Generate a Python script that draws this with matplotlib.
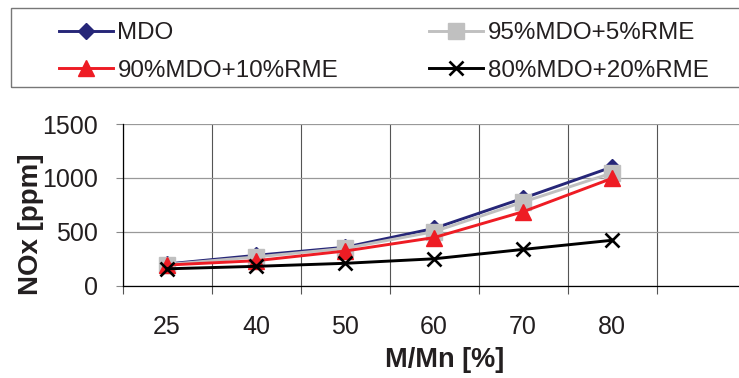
import matplotlib
matplotlib.use("Agg")
import matplotlib.pyplot as plt
from matplotlib.patches import Rectangle

plt.rcParams['font.family'] = ['Liberation Sans', 'DejaVu Sans']

# Data
loads = ["25", "40", "50", "60", "70", "80"]
mdo = [200, 280, 355, 530, 810, 1100]
mdo95 = [195, 265, 345, 500, 775, 1045]
mdo90 = [190, 230, 320, 445, 685, 995]
mdo80 = [155, 178, 206, 248, 335, 420]

W, H = 739, 378
fig = plt.figure(figsize=(W / 100, H / 100), dpi=100)

# axes in pixel terms: left 122.5, right 745.5, top 124, bottom 285.5
ax = fig.add_axes([122.5 / W, (H - 285.5) / H, 623 / W, 161.5 / H])

x = list(range(len(loads)))
ax.plot(x, mdo, color="#262678", lw=2.1, marker="D", ms=8.5, label="MDO")
ax.plot(x, mdo95, color="#c0c0c0", lw=2.1, marker="s", ms=11, label="95%MDO+5%RME")
ax.plot(x, mdo90, color="#ee1c24", lw=2.1, marker="^", ms=11.5, label="90%MDO+10%RME")
ax.plot(x, mdo80, color="black", lw=2.1, marker="x", ms=9.5, mew=1.9, label="80%MDO+20%RME")

ax.set_xlim(-0.5, 6.5)
ax.set_ylim(0, 1500)
ax.set_yticks([0, 500, 1000, 1500])
ax.set_xticks(x)
ax.set_xticklabels(loads)
ax.set_xticks([i - 0.5 for i in range(8)], minor=True)

ax.tick_params(axis="x", which="major", length=0, pad=21, labelsize=18, labelcolor="#231f20")
ax.tick_params(axis="x", which="minor", length=5.8, width=0.8, color="#555555", direction="out")
ax.tick_params(axis="y", length=5, width=0.8, color="#888888", pad=13, labelsize=18, labelcolor="#231f20")

ax.grid(axis="y", color="#999999", lw=0.9)
ax.grid(axis="x", which="minor", color="#555555", lw=0.8)
ax.set_axisbelow(True)
for s in ["top", "right"]:
    ax.spines[s].set_visible(False)
ax.spines["left"].set_color("black")
ax.spines["bottom"].set_color("black")
ax.spines["left"].set_linewidth(0.9)
ax.spines["bottom"].set_linewidth(0.9)

fig.text(31 / W, 1 - 224 / H, "NOx [ppm]", rotation=90, ha="center", va="center",
         fontsize=20, fontweight="bold", color="#231f20")
fig.text(444.5 / W, 1 - 360 / H, "M/Mn [%]", ha="center", va="center",
         fontsize=19.5, fontweight="bold", color="#231f20")

# legend box
fig.patches.append(Rectangle((11 / W, 1 - 87 / H), 745 / W, 79 / H, transform=fig.transFigure,
                             fill=False, edgecolor="#777777", lw=1.0))
handles, labels = ax.get_legend_handles_labels()
order = [0, 2, 1, 3]
fig.legend([handles[i] for i in order], [labels[i] for i in order], ncol=2,
           loc="upper left", bbox_to_anchor=(59 / W, 1 - 22 / H), frameon=False,
           fontsize=17.4, borderpad=0, borderaxespad=0, handlelength=2.25,
           handletextpad=0.17, columnspacing=3.76, labelspacing=0.65,
           labelcolor="#231f20")

fig.savefig("out.png", dpi=100)
